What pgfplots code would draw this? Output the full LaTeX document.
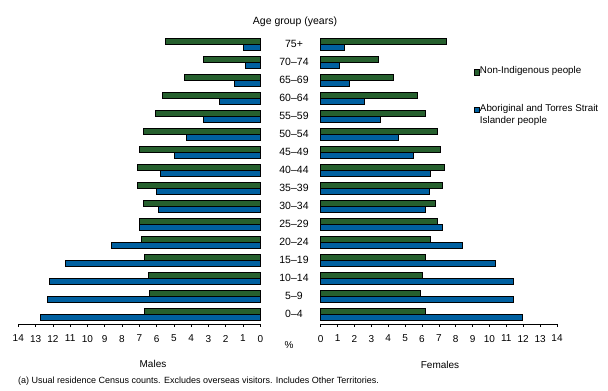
\documentclass[border=0pt]{standalone}
\usepackage{fontspec}
\setmainfont{Liberation Sans}
\usepackage{pgfplots}
\usepackage{pgfplotstable}
\pgfplotsset{compat=1.18}
\definecolor{ngreen}{RGB}{38,96,46}
\definecolor{ablue}{RGB}{0,96,160}

% age index: 0 = 0-4 ... 15 = 75+
\pgfplotstableread{
idx mnon mab fnon fab
0  6.71 12.73 6.20 11.95
1  6.42 12.32 5.90 11.41
2  6.48 12.21 6.02 11.41
3  6.71 11.28 6.20 10.35
4  6.88 8.62  6.50 8.39
5  7.00 7.00  6.91 7.21
6  6.77 5.90  6.79 6.20
7  7.12 6.02  7.21 6.44
8  7.12 5.78  7.33 6.50
9  7.00 4.97  7.09 5.49
10 6.77 4.28  6.91 4.60
11 6.07 3.30  6.20 3.53
12 5.67 2.37  5.73 2.59
13 4.40 1.50  4.30 1.70
14 3.30 0.85  3.42 1.11
15 5.48 0.96  7.44 1.40
}\pop

\pgfplotsset{
  pyr/.style={
    scale only axis,
    height=290.5pt,
    ymin=-0.54, ymax=15.6,
    xmin=0, xmax=14,
    xtick={0,...,14},
    axis x line*=bottom,
    x axis line style={line width=0.6pt,-},
    tick align=outside,
    major tick length=3pt,
    x tick style={black,line width=0.6pt},
    /pgf/number format/assume math mode=true,
    tick label style={font=\fontsize{10}{12}\selectfont},
    xticklabel style={yshift=-4.5pt},
    xbar, bar width=6pt,
    clip=false,
  },
}

\begin{document}
\begin{tikzpicture}
\useasboundingbox (0,0) rectangle (608pt,391pt);

% Males
\begin{axis}[pyr,
  at={(18.3pt,67pt)}, anchor=south west, width=242pt,
  x dir=reverse,
  axis y line=none, ytick=\empty,
]
\addplot[fill=ngreen, draw=black, line width=0.6pt, bar shift=3pt] table[x=mnon,y=idx]{\pop};
\addplot[fill=ablue, draw=black, line width=0.6pt, bar shift=-3pt] table[x=mab,y=idx]{\pop};
\end{axis}

% Females
\begin{axis}[pyr,
  at={(320.7pt,67pt)}, anchor=south west, width=236.3pt,
  axis y line*=left, y axis line style={draw=none},
  ytick={0,...,15},
  yticklabels={0–4,5–9,10–14,15–19,20–24,25–29,30–34,35–39,40–44,45–49,50–54,55–59,60–64,65–69,70–74,75+},
  ytick style={draw=none},
  yticklabel style={anchor=center, xshift=-23.7pt, font=\fontsize{10.5}{12}\selectfont},
  legend style={at={(0.647,0.889)}, anchor=north west, draw=none, fill=none,
    font=\fontsize{9.8}{11}\selectfont, row sep=0pt, inner sep=0pt,
    nodes={inner sep=0.5pt, text height=7.5pt, text depth=4pt},
    cells={anchor=west}},
  legend cell align=left,
  legend image code/.code={\draw[#1, line width=0.5pt] (0pt,-2.6pt) rectangle (5.2pt,2.6pt);},
]
\addplot[fill=ngreen, draw=black, line width=0.6pt, bar shift=3pt] table[x=fnon,y=idx]{\pop};
\addlegendentry{Non-Indigenous people}
\addlegendimage{empty legend}\addlegendentry{}
\addlegendimage{empty legend}\addlegendentry{}
\addplot[fill=ablue, draw=black, line width=0.6pt, bar shift=-3pt] table[x=fab,y=idx]{\pop};
\addlegendentry{Aboriginal and Torres Strait}
\addlegendimage{empty legend}\addlegendentry{Islander people}
\end{axis}

\node[font=\fontsize{10.5}{12}\selectfont] at (295pt,369pt) {Age group (years)};
\node[font=\fontsize{10}{12}\selectfont] at (289pt,46pt) {\%};
\node[font=\fontsize{10}{12}\selectfont] at (153pt,27pt) {Males};
\node[font=\fontsize{10}{12}\selectfont] at (440pt,26pt) {Females};
\node[font=\fontsize{9}{10}\selectfont, anchor=west, inner sep=0pt] at (18pt,10pt) {(a) Usual residence Census counts. Excludes overseas visitors. Includes Other Territories.};
\end{tikzpicture}
\end{document}
